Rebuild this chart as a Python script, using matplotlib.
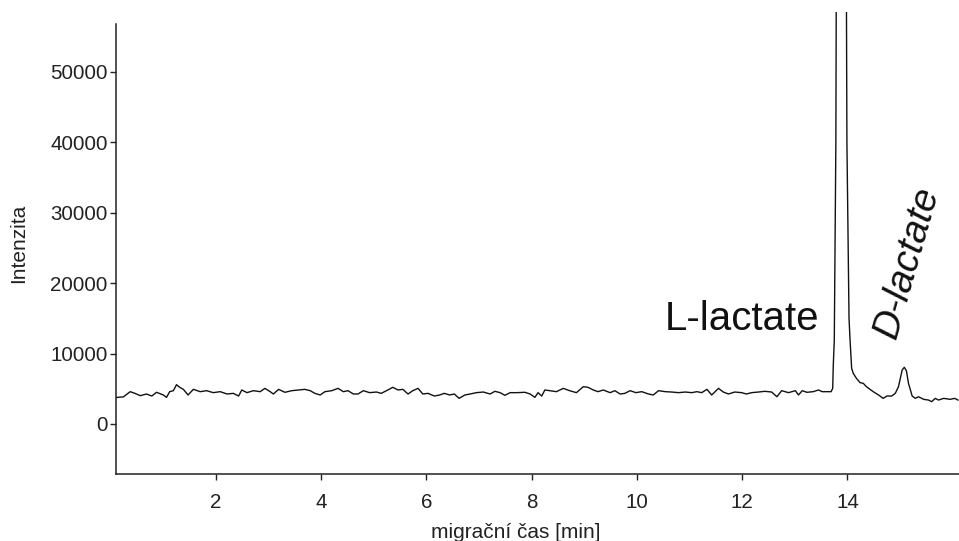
import matplotlib.pyplot as plt

plt.rcParams['font.family'] = ['Liberation Sans', 'DejaVu Sans']

# migration time [min] and detector intensity
time_min = [
    0.10, 0.24, 0.37, 0.46, 0.56, 0.68, 0.78, 0.87, 1.00, 1.06,
    1.12, 1.19, 1.25, 1.31, 1.38, 1.47, 1.57, 1.70, 1.82, 1.95,
    2.08, 2.21, 2.33, 2.43, 2.49, 2.59, 2.71, 2.84, 2.93, 3.03,
    3.09, 3.19, 3.31, 3.44, 3.57, 3.69, 3.79, 3.88, 3.98, 4.07,
    4.20, 4.32, 4.42, 4.51, 4.61, 4.70, 4.80, 4.92, 5.05, 5.14,
    5.24, 5.36, 5.46, 5.55, 5.65, 5.74, 5.84, 5.93, 6.03, 6.15,
    6.25, 6.34, 6.44, 6.53, 6.62, 6.73, 6.83, 6.95, 7.08, 7.21,
    7.30, 7.40, 7.49, 7.59, 7.71, 7.87, 7.97, 8.06, 8.12, 8.19,
    8.25, 8.34, 8.47, 8.60, 8.72, 8.85, 8.98, 9.07, 9.17, 9.26,
    9.36, 9.49, 9.58, 9.68, 9.77, 9.87, 9.98, 10.09, 10.22, 10.31,
    10.41, 10.54, 10.66, 10.79, 10.92, 11.04, 11.14, 11.23, 11.33, 11.42,
    11.55, 11.64, 11.74, 11.86, 11.99, 12.08, 12.18, 12.31, 12.43, 12.56,
    12.66, 12.75, 12.88, 13.01, 13.07, 13.14, 13.23, 13.35, 13.45, 13.52,
    13.61, 13.69, 13.72, 13.73, 13.75, 13.78, 13.82, 13.88, 13.94, 13.99,
    14.03, 14.05, 14.08, 14.11, 14.17, 14.24, 14.30, 14.36, 14.43, 14.49,
    14.59, 14.68, 14.75, 14.84, 14.91, 14.97, 15.04, 15.08, 15.12, 15.16,
    15.23, 15.29, 15.35, 15.45, 15.54, 15.60, 15.67, 15.73, 15.83, 15.95,
    16.04, 16.10,
]
intensity = [
    3760, 3850, 4590, 4350, 4020, 4260, 3970, 4500, 4120, 3780,
    4590, 4730, 5580, 5210, 4920, 4120, 4920, 4590, 4730, 4450,
    4590, 4260, 4350, 3970, 4830, 4450, 4730, 4590, 5060, 4590,
    4260, 4920, 4500, 4730, 4830, 4920, 4730, 4350, 4120, 4590,
    4730, 5060, 4590, 4730, 4260, 4260, 4730, 4450, 4540, 4350,
    4730, 5210, 4830, 4920, 4260, 4730, 5060, 4260, 4350, 3970,
    4120, 4350, 4120, 4260, 3640, 4120, 4260, 4450, 4540, 4260,
    4640, 4450, 4070, 4450, 4450, 4500, 4260, 3780, 4450, 3970,
    4830, 4730, 4590, 5060, 4730, 4450, 5300, 5210, 4830, 4590,
    4830, 4450, 4730, 4260, 4350, 4730, 4450, 4590, 4260, 4120,
    4730, 4590, 4540, 4450, 4540, 4450, 4590, 4450, 4920, 4120,
    5060, 4540, 4260, 4540, 4450, 4260, 4450, 4540, 4640, 4540,
    3870, 4730, 4450, 4730, 4120, 4730, 4500, 4590, 4830, 4590,
    4590, 4590, 5070, 8140, 11900, 40000, 150000, 300000, 150000, 40000,
    15000, 11900, 7900, 7200, 6490, 5870, 5780, 5300, 4920, 4590,
    4120, 3640, 3970, 3970, 4360, 5300, 7670, 8050, 7580, 5780,
    3970, 3640, 3870, 3500, 3400, 3170, 3640, 3400, 3640, 3500,
    3640, 3400,
]

x_ticks = [2, 4, 6, 8, 10, 12, 14]
y_ticks = [0, 10000, 20000, 30000, 40000, 50000]

fig = plt.figure(figsize=(9.59, 5.41), dpi=100)
ax = fig.add_axes([116 / 959, 1 - 474 / 541, 1 - 116 / 959, (474 - 12) / 541])

ax.plot(time_min, intensity, color='#111111', linewidth=1.0)

ax.set_xlim(0.1, 16.12)
ax.set_ylim(-7100, 58500)
ax.set_xticks(x_ticks)
ax.set_yticks(y_ticks)
ax.set_xticklabels([str(v) for v in x_ticks])
ax.set_yticklabels([str(v) for v in y_ticks])

for side in ['top', 'right']:
    ax.spines[side].set_visible(False)
for side in ['left', 'bottom']:
    ax.spines[side].set_linewidth(1.1)
    ax.spines[side].set_color('#222222')
ax.spines['left'].set_bounds(-7100, 56800)

ax.tick_params(axis='both', direction='out', length=4, width=1.0,
               colors='#222222', labelsize=14.8)
ax.tick_params(axis='x', pad=10)
ax.tick_params(axis='y', pad=2)

ax.set_ylabel('Intenzita', fontsize=15, color='#222222', labelpad=16)
fig.text(516 / 959, 1 - 538 / 541, 'migrační čas [min]', fontsize=15,
         color='#222222', ha='center', va='baseline')

ax.text(12.0, 13350, 'L-lactate', fontsize=29, color='#111111',
        ha='center', va='baseline')
ax.text(15.14, 23000, 'D-lactate', fontsize=28, color='#111111',
        style='italic', rotation=74, ha='center', va='center')

fig.savefig('out.png', dpi=100)
